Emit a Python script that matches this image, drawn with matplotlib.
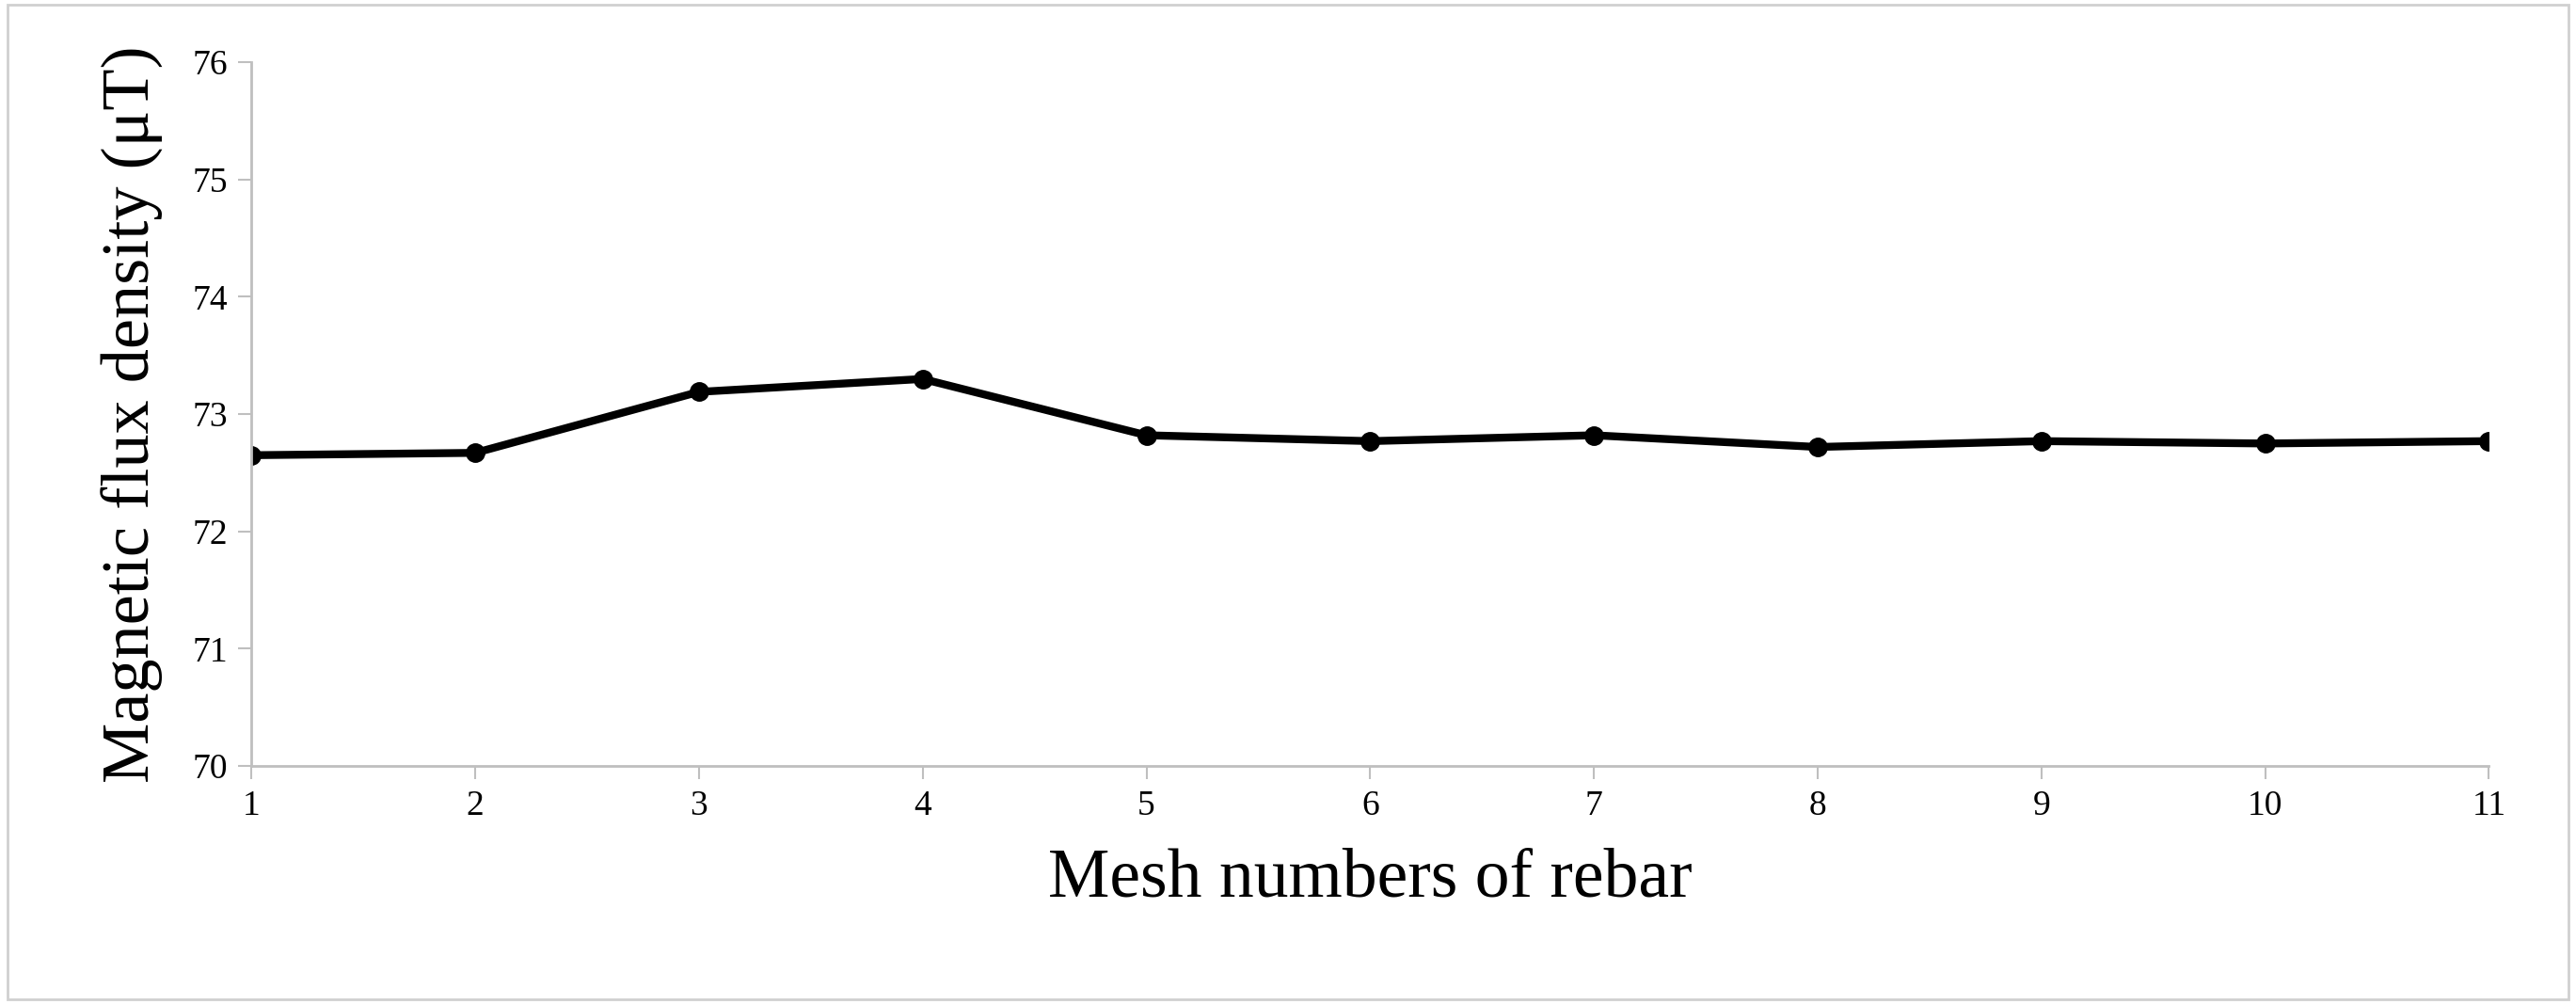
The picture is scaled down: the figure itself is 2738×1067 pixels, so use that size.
import matplotlib.pyplot as plt
from matplotlib.patches import Rectangle

plt.rcParams["font.family"] = ["Liberation Serif", "DejaVu Serif"]

mesh_numbers = [1, 2, 3, 4, 5, 6, 7, 8, 9, 10, 11]
flux_density = [72.65, 72.67, 73.19, 73.30, 72.82, 72.77, 72.82, 72.72, 72.77, 72.75, 72.77]

fig = plt.figure(figsize=(27.38, 10.67), dpi=100)
ax = fig.add_axes([0.0976, 0.237, 0.8686, 0.701])
ax.plot(mesh_numbers, flux_density, color="black", lw=6, marker="o", ms=14)

ax.set_xlim(1, 11)
ax.set_ylim(70, 76)
ax.set_xticks(mesh_numbers)
ax.set_yticks(range(70, 77))
ax.tick_params(labelsize=27, length=10, width=1.5, color="#bfbfbf", pad=8)
for side in ["top", "right"]:
    ax.spines[side].set_visible(False)
for side in ["left", "bottom"]:
    ax.spines[side].set_color("#bfbfbf")
    ax.spines[side].set_linewidth(2)

ax.set_xlabel("Mesh numbers of rebar", fontsize=53, labelpad=20)
ax.set_ylabel("Magnetic flux density (μT)", fontsize=52, labelpad=22)

fig.patches.append(Rectangle((0.003, 0.005), 0.994, 0.99, transform=fig.transFigure,
                             fill=False, edgecolor="#d0d0d0", lw=2))

fig.savefig("out.png", dpi=100)
